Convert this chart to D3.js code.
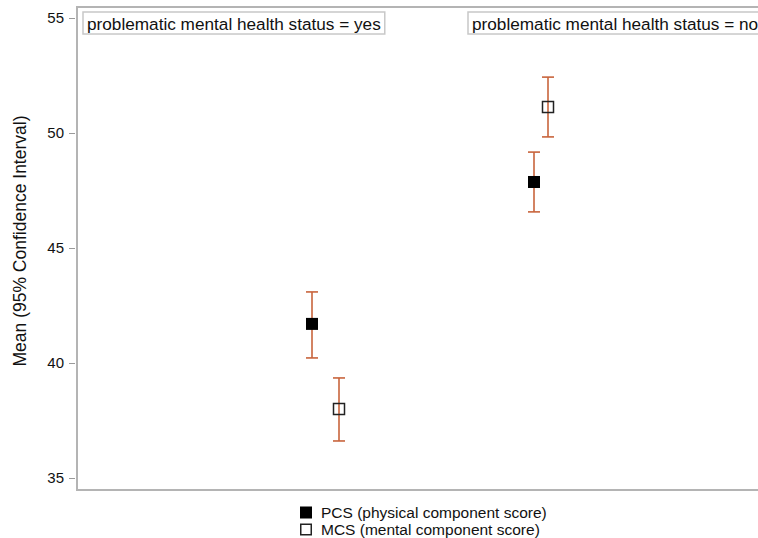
<!DOCTYPE html>
<html>
<head>
<meta charset="utf-8">
<script src="https://cdn.jsdelivr.net/npm/d3@7"></script>
<style>
  html, body { margin: 0; padding: 0; background: #fff; overflow: hidden; }
  svg { display: block; font-family: "Liberation Sans", Arial, sans-serif; }
</style>
</head>
<body>
<svg id="chart" width="758" height="538"></svg>
<script>
// Panels (strata) and their strip labels
const panels = ["yes", "no"];
const panelLabels = ["problematic mental health status = yes", "problematic mental health status = no"];

// Series
const seriesNames = ["PCS (physical component score)", "MCS (mental component score)"];
const seriesKeys = ["PCS", "MCS"];

// Horizontal position of each point on the shared x axis (panel, series)
const xPCS = [2.35, 4.57];
const xMCS = [2.62, 4.71];

// Means and 95% confidence limits, per panel
const meanPCS = [41.7, 47.87];
const lowPCS  = [40.22, 46.57];
const highPCS = [43.09, 49.17];
const meanMCS = [38.0, 51.13];
const lowMCS  = [36.61, 49.83];
const highMCS = [39.35, 52.43];

// Y axis ticks
const yTicks = [35, 40, 45, 50, 55];

const svg = d3.select("#chart");
const frame = { left: 77, top: 7, right: 800, bottom: 490 };

const y = d3.scaleLinear().domain([35, 55]).range([478, 18]);
const x = d3.scaleLinear().domain([0, 8]).range([77, 877]);

const points = [];
panels.forEach((p, i) => {
  points.push({ panel: p, key: "PCS", x: xPCS[i], mean: meanPCS[i], lo: lowPCS[i], hi: highPCS[i] });
  points.push({ panel: p, key: "MCS", x: xMCS[i], mean: meanMCS[i], lo: lowMCS[i], hi: highMCS[i] });
});

// Plot frame: left, top and bottom edges (the right side runs past the page)
svg.append("path")
  .attr("d", `M${frame.right},${frame.top}H${frame.left}V${frame.bottom}H${frame.right}`)
  .attr("fill", "none").attr("stroke", "#b4b4b4").attr("stroke-width", 2);

// Y axis
const yAxis = d3.axisLeft(y).tickValues(yTicks).tickSize(6).tickPadding(5).tickFormat(d3.format("d"));
const gy = svg.append("g").attr("transform", `translate(${frame.left - 2},0)`).call(yAxis);
gy.select(".domain").remove();
gy.selectAll(".tick line").attr("stroke", "#9a9a9a").attr("stroke-width", 1);
gy.selectAll(".tick text").attr("font-size", 15).attr("fill", "#111")
  .attr("font-family", "'Liberation Sans', Arial, sans-serif");

// Y axis title
svg.append("text")
  .attr("transform", "translate(26,241) rotate(-90)")
  .attr("text-anchor", "middle")
  .attr("font-size", 17.5).attr("fill", "#111")
  .text("Mean (95% Confidence Interval)");

// Strip labels
const stripX = [83, 468];
panels.forEach((p, i) => {
  const g = svg.append("g");
  const t = g.append("text")
    .attr("x", stripX[i] + 4).attr("y", 29.5)
    .attr("font-size", 17.2).attr("fill", "#111")
    .text(panelLabels[i]);
  const w = t.node().getComputedTextLength();
  g.insert("rect", "text")
    .attr("x", stripX[i]).attr("y", 12)
    .attr("width", w + 8).attr("height", 22)
    .attr("fill", "#fff").attr("stroke", "#c8c8c8").attr("stroke-width", 1.5);
});

// Error bars
const errColor = "#c8643c";
const capW = 12;
const eb = svg.append("g");
points.forEach(d => {
  const cx = x(d.x);
  eb.append("line").attr("x1", cx).attr("x2", cx).attr("y1", y(d.hi)).attr("y2", y(d.lo))
    .attr("stroke", errColor).attr("stroke-width", 1.6);
  [d.hi, d.lo].forEach(v => {
    eb.append("line").attr("x1", cx - capW / 2).attr("x2", cx + capW / 2).attr("y1", y(v)).attr("y2", y(v))
      .attr("stroke", errColor).attr("stroke-width", 1.6);
  });
});

// Markers
const mk = svg.append("g");
points.forEach(d => {
  const cx = x(d.x), cy = y(d.mean);
  if (d.key === "PCS") {
    mk.append("rect").attr("x", cx - 6).attr("y", cy - 6).attr("width", 12).attr("height", 12)
      .attr("fill", "#000");
  } else {
    mk.append("rect").attr("x", cx - 5.5).attr("y", cy - 5.5).attr("width", 11).attr("height", 11)
      .attr("fill", "none").attr("stroke", "#222").attr("stroke-width", 1.5);
  }
});

// Legend
const lg = svg.append("g");
seriesNames.forEach((name, i) => {
  const yy = 512.5 + i * 17;
  if (seriesKeys[i] === "PCS") {
    lg.append("rect").attr("x", 300).attr("y", yy - 6).attr("width", 12).attr("height", 12).attr("fill", "#000");
  } else {
    lg.append("rect").attr("x", 300.75).attr("y", yy - 5.25).attr("width", 10.5).attr("height", 10.5)
      .attr("fill", "#fff").attr("stroke", "#222").attr("stroke-width", 1.5);
  }
  lg.append("text").attr("x", 321).attr("y", yy + 5.5)
    .attr("font-size", 15.5).attr("fill", "#111").text(name);
});
</script>
</body>
</html>
